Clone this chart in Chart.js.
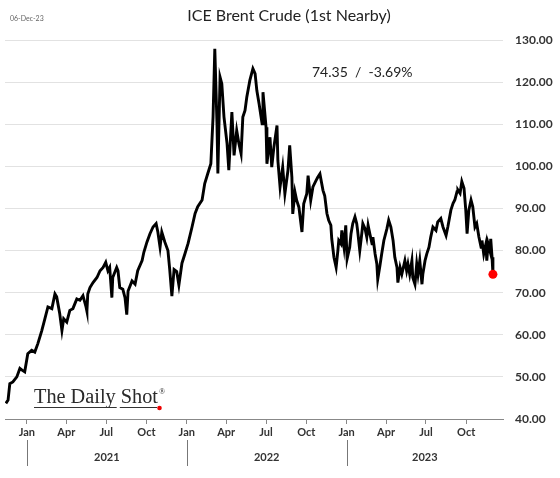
<!DOCTYPE html>
<html>
<head>
<meta charset="utf-8">
<script src="https://cdn.jsdelivr.net/npm/chart.js@4"></script>
<style>
  html, body { margin: 0; padding: 0; background: #fff; }
  #wrap { width: 560px; height: 478px; position: relative; }
</style>
</head>
<body>
<div id="wrap"><canvas id="chart"></canvas></div>
<script>
// days counted from 1 Jan 2021, prices
const days = [
  -48, -43, -39, -32, -23, -16, -11, -5, 2, 11, 18, 25, 34, 41, 48, 57, 64, 68, 75, 80,
  84, 91, 98, 105, 114, 121, 128, 135, 137, 139, 144, 151, 160, 167, 174, 180, 185, 189, 194, 196,
  205, 208, 212, 219, 224, 228, 231, 240, 247, 253, 263, 267, 274, 281, 288, 295, 299, 304, 308, 315,
  322, 326, 331, 336, 342, 347, 354, 361, 368, 377, 384, 390, 400, 406, 413, 420, 425, 429, 434, 436,
  441, 445, 450, 457, 461, 468, 473, 479, 484, 489, 493, 498, 502, 509, 516, 521, 525, 530, 537, 539,
  546, 548, 555, 559, 564, 571, 573, 578, 584, 589, 596, 600, 605, 607, 612, 616, 621, 628, 632, 639,
  642, 648, 653, 660, 664, 669, 676, 680, 685, 689, 694, 696, 701, 706, 710, 712, 717, 719, 724, 728,
  731, 737, 740, 744, 749, 753, 755, 760, 765, 767, 772, 776, 779, 783, 788, 790, 795, 799, 801, 806,
  810, 815, 822, 826, 831, 836, 840, 845, 847, 852, 856, 863, 867, 870, 874, 879, 881, 886, 890, 893,
  897, 902, 904, 909, 913, 918, 922, 927, 934, 938, 945, 950, 957, 961, 968, 973, 977, 982, 984, 989,
  993, 998, 1002, 1005, 1009, 1014, 1018, 1023, 1027, 1032, 1037, 1039, 1043, 1048, 1050, 1053, 1057, 1059, 1062, 1064
];
const prices = [
  43.7, 44.5, 48.4, 48.8, 50.0, 52.0, 51.6, 51.2, 55.5, 56.3, 55.9, 57.9, 61.0, 63.8, 66.6, 66.2, 69.7, 69.0, 65.0, 61.0,
  63.8, 63.0, 65.8, 66.2, 68.5, 68.2, 69.3, 66.6, 65.6, 69.7, 71.2, 72.4, 73.6, 75.2, 76.0, 77.2, 75.2, 76.0, 68.8, 73.6,
  76.0, 75.2, 71.2, 70.8, 68.8, 64.8, 70.4, 72.8, 72.0, 75.2, 77.6, 79.6, 82.0, 84.0, 85.6, 86.4, 84.4, 80.8, 84.4, 82.0,
  80.0, 75.6, 69.2, 75.5, 75.0, 71.8, 77.0, 79.3, 81.7, 85.6, 88.8, 90.4, 92.0, 95.9, 98.3, 100.6, 111.7, 127.9, 110.0, 98.3,
  121.2, 119.6, 111.7, 105.4, 99.1, 112.9, 102.6, 108.5, 105.4, 103.0, 111.7, 113.3, 116.4, 120.4, 123.2, 122.0, 118.0, 114.9, 110.1, 117.6,
  109.3, 100.6, 106.9, 99.8, 104.6, 109.7, 101.4, 95.1, 99.8, 93.5, 99.0, 105.0, 97.4, 88.7, 93.9, 91.9, 90.3, 84.4, 91.1, 93.5,
  97.8, 91.9, 95.1, 96.6, 97.4, 98.2, 94.3, 93.0, 88.8, 87.2, 86.0, 82.8, 78.4, 76.0, 80.0, 82.4, 81.6, 84.8, 80.8, 86.0,
  78.0, 80.8, 84.0, 86.4, 88.0, 86.4, 84.8, 80.0, 84.4, 86.4, 85.2, 83.2, 86.0, 84.0, 81.6, 83.2, 79.2, 76.8, 73.2, 76.4,
  79.2, 82.4, 85.2, 87.2, 85.6, 82.4, 78.4, 76.0, 72.4, 76.0, 74.4, 77.6, 75.2, 76.8, 74.4, 77.6, 73.6, 72.0, 76.8, 74.4,
  77.6, 72.0, 74.4, 77.6, 79.2, 80.8, 83.2, 85.6, 84.8, 86.8, 87.6, 85.6, 83.6, 85.6, 89.6, 91.2, 92.0, 94.0, 94.4, 93.6,
  96.4, 94.8, 89.6, 84.0, 89.6, 92.0, 90.4, 85.6, 86.4, 83.2, 80.8, 82.4, 79.2, 81.6, 77.6, 81.6, 80.0, 82.8, 78.4, 74.35
];

const quarterDays = [0, 90, 181, 273, 365, 455, 546, 638, 730, 820, 911, 1003];
const quarterLabels = ['Jan', 'Apr', 'Jul', 'Oct', 'Jan', 'Apr', 'Jul', 'Oct', 'Jan', 'Apr', 'Jul', 'Oct'];
const yearStarts = [0, 365, 730, 1095];
const yearLabels = ['2021', '2022', '2023'];
const yTicks = [40, 50, 60, 70, 80, 90, 100, 110, 120, 130];

const lastIdx = prices.length - 1;
const points = days.map((d, i) => ({ x: d, y: prices[i] }));

const extras = {
    id: 'extras',
    afterDraw(chart) {
        const c = chart.ctx;
        const xs = chart.scales.x;
        c.save();

        c.fillStyle = '#222';
        c.textBaseline = 'middle';
        c.textAlign = 'center';
        c.font = '16px Lato';
        c.fillText('ICE Brent Crude (1st Nearby)', 289, 16);

        c.textAlign = 'left';
        c.fillStyle = '#666';
        c.font = '7px Lato';
        c.fillText('06-Dec-23', 10, 19);

        c.fillStyle = '#222';
        c.font = '14px Lato';
        c.fillText('74.35  /  -3.69%', 312, 72);

        // year row under the month labels
        c.strokeStyle = '#777';
        c.lineWidth = 1;
        for (let i = 0; i < 3; i++) {
            const px = Math.round(xs.getPixelForValue(yearStarts[i])) + 0.5;
            c.beginPath();
            c.moveTo(px, 440);
            c.lineTo(px, 466);
            c.stroke();
        }
        c.fillStyle = '#333';
        c.font = 'bold 11px Lato';
        c.textAlign = 'center';
        for (let i = 0; i < 3; i++) {
            const mid = (yearStarts[i] + Math.min(yearStarts[i + 1], xs.max)) / 2;
            c.fillText(yearLabels[i], xs.getPixelForValue(mid), 457);
        }

        // logo
        c.textAlign = 'left';
        c.textBaseline = 'alphabetic';
        c.fillStyle = '#2a2a2a';
        c.font = '20px "Liberation Serif"';
        const w1 = c.measureText('The Daily').width;
        const gap = c.measureText(' ').width;
        const w2 = c.measureText('Shot').width;
        const sx = 124 / (w1 + gap + w2);
        c.save();
        c.translate(34, 403);
        c.scale(sx, 1);
        c.fillText('The Daily Shot', 0, 0);
        c.restore();
        c.font = '8px "Liberation Serif"';
        c.fillText('®', 159, 394);
        c.strokeStyle = '#333';
        c.lineWidth = 1;
        c.beginPath();
        c.moveTo(34, 407.5); c.lineTo(34 + w1 * sx + 1, 407.5);
        c.moveTo(34 + (w1 + gap) * sx - 1, 407.5); c.lineTo(157, 407.5);
        c.stroke();
        c.fillStyle = '#e00';
        c.beginPath();
        c.arc(159.5, 408, 2.3, 0, Math.PI * 2);
        c.fill();

        c.restore();
    }
};

new Chart(document.getElementById('chart'), {
    type: 'line',
    data: {
        datasets: [{
            data: points,
            borderColor: '#000',
            borderWidth: 2.9,
            tension: 0,
            pointRadius: ctx => ctx.dataIndex === lastIdx ? 4.5 : 0,
            pointHoverRadius: 0,
            pointBackgroundColor: '#f00',
            pointBorderWidth: 0
        }]
    },
    options: {
        responsive: true,
        maintainAspectRatio: false,
        animation: false,
        layout: { padding: { left: 5, top: 40, right: 0, bottom: 0 } },
        plugins: { legend: { display: false }, tooltip: { enabled: false } },
        scales: {
            x: {
                type: 'linear',
                min: -50,
                max: 1087,
                afterBuildTicks: s => { s.ticks = quarterDays.map(v => ({ value: v })); },
                afterFit: s => { s.height = 59; },
                ticks: {
                    callback: (v, i) => quarterLabels[i],
                    color: '#333',
                    font: { family: 'Lato', weight: 'bold', size: 11 },
                    padding: 2,
                    maxRotation: 0,
                    autoSkip: false
                },
                grid: { drawOnChartArea: false, drawTicks: true, tickLength: 5, color: '#888' },
                border: { color: '#888', width: 1 }
            },
            y: {
                position: 'right',
                min: 40,
                max: 130,
                afterBuildTicks: s => { s.ticks = yTicks.map(v => ({ value: v })); },
                afterFit: s => { s.width = 57; },
                ticks: {
                    callback: v => v.toFixed(2),
                    color: '#333',
                    font: { family: 'Lato', weight: 'bold', size: 12 },
                    padding: 12
                },
                grid: { color: '#e2e2e2', drawTicks: false },
                border: { display: false }
            }
        }
    },
    plugins: [extras]
});
</script>
</body>
</html>
